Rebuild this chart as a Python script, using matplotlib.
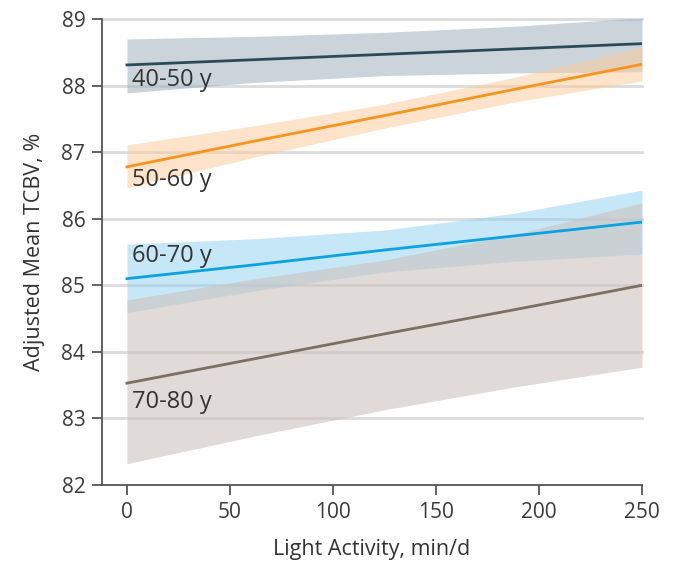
import numpy as np
import matplotlib.pyplot as plt

plt.rcParams['font.family'] = ['Open Sans', 'DejaVu Sans']

# light activity (min/d) where the fitted lines and CI edges are read
x = [0, 62.5, 125, 187.5, 250]

groups = ['40-50 y', '50-60 y', '60-70 y', '70-80 y']
mean_4050 = [88.31, 88.39, 88.47, 88.55, 88.63]
low_4050 = [87.89, 88.05, 88.15, 88.19, 88.21]
high_4050 = [88.70, 88.74, 88.80, 88.89, 89.02]

mean_5060 = [86.78, 87.17, 87.55, 87.94, 88.32]
low_5060 = [86.46, 86.93, 87.36, 87.75, 88.07]
high_5060 = [87.11, 87.40, 87.72, 88.12, 88.58]

mean_6070 = [85.10, 85.31, 85.53, 85.74, 85.95]
low_6070 = [84.59, 84.92, 85.20, 85.36, 85.47]
high_6070 = [85.62, 85.70, 85.83, 86.08, 86.43]

mean_7080 = [83.53, 83.90, 84.27, 84.63, 85.00]
low_7080 = [82.32, 82.74, 83.13, 83.47, 83.77]
high_7080 = [84.78, 85.10, 85.38, 85.76, 86.24]

label_y = [88.08, 86.58, 85.44, 83.25]

line_cols = ['#2c4b58', '#f7941d', '#0aa2e2', '#7a7064']
band_cols = ['#9fb1bd', '#fcc995', '#8fd0f0', '#cdc4c1']
band_alpha = [0.55, 0.5, 0.5, 0.62]

means = [mean_4050, mean_5060, mean_6070, mean_7080]
lows = [low_4050, low_5060, low_6070, low_7080]
highs = [high_4050, high_5060, high_6070, high_7080]

fig = plt.figure(figsize=(6.77, 5.68), dpi=100)
ax = fig.add_axes([0.1507, 0.1461, 0.7976, 0.8204])

for yy in range(83, 90):
    ax.plot([-12.1, 250], [yy, yy], color='#dcdcdc', lw=2, zorder=0, clip_on=False)

for i in range(4):
    ax.fill_between(x, lows[i], highs[i], color=band_cols[i], alpha=band_alpha[i],
                    lw=0, zorder=1)
for i in range(4):
    ax.plot(x, means[i], color=line_cols[i], lw=2, zorder=3)
    ax.text(2.5, label_y[i], groups[i], fontsize=17, color='#333333',
            ha='left', va='center', zorder=4)

ax.set_xlim(-12.1, 250)
ax.set_ylim(82, 89)
ax.set_xticks([0, 50, 100, 150, 200, 250])
ax.set_yticks(range(82, 90))
ax.spines['top'].set_visible(False)
ax.spines['right'].set_visible(False)
for s in ['left', 'bottom']:
    ax.spines[s].set_color('#555555')
    ax.spines[s].set_linewidth(1.3)
ax.tick_params(axis='both', length=7, width=1.3, color='#555555',
               labelsize=15, labelcolor='#3a3a3a', pad=5)

ax.set_xlabel('Light Activity, min/d', fontsize=15.5, color='#333333', labelpad=12)
ax.set_ylabel('Adjusted Mean TCBV, %', fontsize=15.5, color='#333333', labelpad=12)

fig.savefig('out.png', dpi=100)
